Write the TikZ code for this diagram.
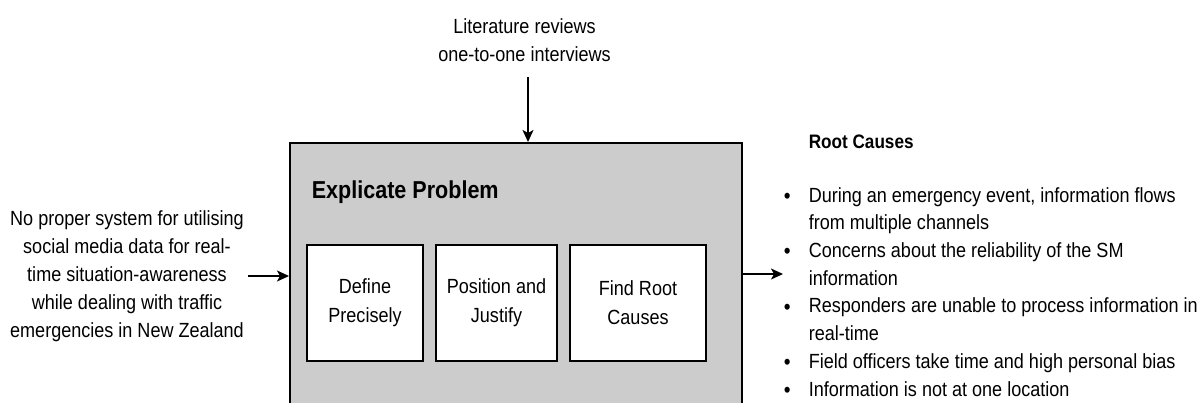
\documentclass[tikz,border=0pt]{standalone}
\usepackage{fontspec}
\setmainfont{Liberation Sans}[FakeStretch=0.88]
\usetikzlibrary{arrows.meta}
\newcommand{\rcbullet}{\raisebox{-1.2pt}{\fontsize{22}{22}\selectfont\textbullet}}
\begin{document}
\begin{tikzpicture}[x=1pt,y=-1pt,
  line width=1.5pt,
  arr/.style={-{Stealth[length=12pt,width=11pt,inset=3pt]}},
  body/.style={font=\fontsize{20.5}{28}\selectfont, inner sep=0pt, align=center},
  stage/.style={draw=black, fill=white, minimum height=116pt,
    inner sep=0pt, align=center, font=\fontsize{20.5}{29}\selectfont},
]
\useasboundingbox (0,0) rectangle (1200,402);
\clip (0,0) rectangle (1200,402);
\fill[white] (0,0) rectangle (1200,402);

% outer activity box, running off the lower edge
\node[draw=black, fill=black!20, minimum width=452pt, minimum height=270pt,
      anchor=north west, inner sep=0pt] (main) at (289,142) {};

\node[anchor=west, inner sep=0pt, font=\fontsize{24.5}{28}\selectfont\bfseries]
  (title) at (311,192) {Explicate Problem};

% three sub-steps
\node[stage, minimum width=116pt] (define) at (365,303) {Define\\Precisely};
\node[stage, minimum width=121pt] (position) at (496.5,303) {Position and\\Justify};
\node[stage, minimum width=136pt] (find) at (638,303) {Find Root\\Causes};

% control input from above
\node[body] (sources) at (524.5,40) {Literature reviews\\one-to-one interviews};
\coordinate (srcend) at (528,77);
\draw[arr] (srcend) -- (528,142);

% problem statement input
\node[body] (problem) at (127,276) {No proper system for utilising\\social media data for real-\\time situation-awareness\\while dealing with traffic\\emergencies in New Zealand};
\coordinate (inL) at (248,276);
\draw[arr] (inL) -- (main.west |- inL);

% output: root causes
\coordinate (outR) at (783,274);
\draw[arr] (main.east |- outR) -- (outR);

\node[anchor=west, inner sep=0pt, font=\fontsize{19.5}{24}\selectfont\bfseries]
  (rchead) at (808,142) {Root Causes};

\node[anchor=north west, inner sep=0pt, font=\fontsize{20.5}{27.7}\selectfont]
  (rclist) at (783,182) {%
  \begin{tabular}{@{}p{25pt}@{}l@{}}
  \rcbullet & During an emergency event, information flows\\
   & from multiple channels\\
  \rcbullet & Concerns about the reliability of the SM\\
   & information\\
  \rcbullet & Responders are unable to process information in\\
   & real-time\\
  \rcbullet & Field officers take time and high personal bias\\
  \rcbullet & Information is not at one location
  \end{tabular}};
\end{tikzpicture}
\end{document}
